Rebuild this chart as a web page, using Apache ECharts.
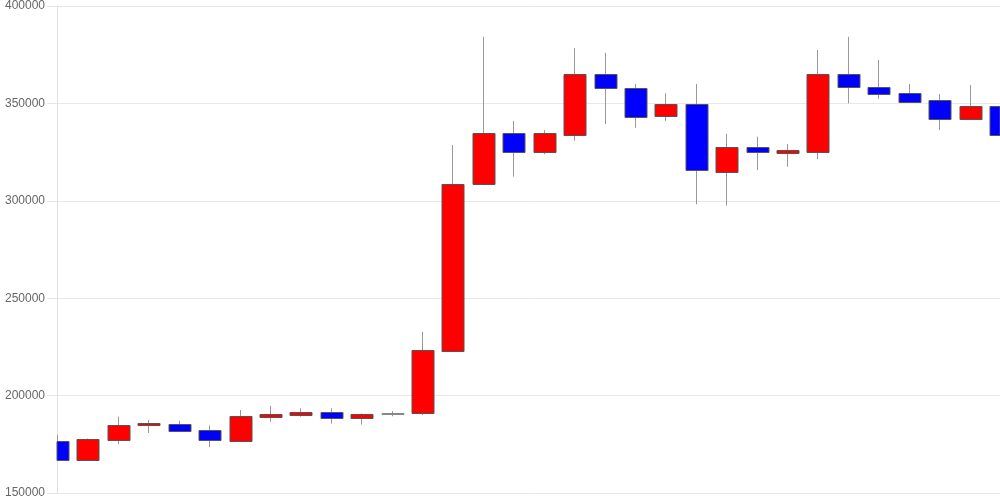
<!DOCTYPE html>
<html>
<head>
<meta charset="utf-8">
<title>candlestick</title>
<script src="https://cdn.jsdelivr.net/npm/echarts@6/dist/echarts.min.js"></script>
<style>
  html, body { margin: 0; padding: 0; background: #fff; }
  #chart { width: 1000px; height: 500px; }
</style>
</head>
<body>
<div id="chart"></div>
<script>
// 日ごとのローソク足データ（open, close, low, high）
var days = [];
for (var d = 1; d <= 32; d++) days.push("D" + d);

var openVals  = [176700, 167000, 177200, 184700, 185400, 182300, 176900, 189000, 190000, 191400, 188500, 191000,
                 190900, 223000, 308500, 335000, 324900, 333900, 365100, 358100, 343400, 349700, 314800, 327600,
                 324700, 325200, 365100, 358300, 355200, 351600, 342100, 348700];
var closeVals = [167000, 177800, 184900, 185700, 182000, 177000, 189400, 190400, 191400, 188500, 190700, 191000,
                 223400, 308500, 335000, 324900, 335000, 365100, 357900, 342900, 349700, 316000, 327600, 324900,
                 326100, 365100, 358300, 354700, 350900, 342100, 348700, 333600];
var lowVals   = [166500, 166700, 175100, 180800, 181500, 173500, 176300, 186600, 189200, 185600, 185100, 189400,
                 190000, 222500, 308000, 312400, 323900, 330900, 339400, 337500, 341000, 298200, 297500, 315800,
                 317500, 321300, 350000, 352400, 350500, 336300, 342000, 326100];
var highVals  = [179800, 178000, 189200, 187500, 187100, 184700, 192600, 194700, 193500, 193500, 190800, 192100,
                 232800, 328600, 384200, 341000, 336300, 378400, 376000, 360000, 355200, 360000, 334300, 332900,
                 329200, 377400, 384200, 372300, 360000, 354800, 359400, 352100];

var yMin = 150000, yMax = 400000, yStep = 50000;

var candles = days.map(function (_, i) {
  return [i, openVals[i], closeVals[i], lowVals[i], highVals[i]];
});

// ローソク足をグリッド内にクリップして描く
function renderCandle(params, api) {
  var idx = api.value(0);
  var o = api.value(1), c = api.value(2);
  var pOpen = api.coord([idx, o]);
  var pClose = api.coord([idx, c]);
  var pLow = api.coord([idx, api.value(3)]);
  var pHigh = api.coord([idx, api.value(4)]);
  var bw = Math.round(api.size([1, 0])[0] * 0.72);
  var cx = Math.round(pOpen[0]) + 0.5;
  var top = Math.round(Math.min(pOpen[1], pClose[1])) + 0.5;
  var bottom = Math.round(Math.max(pOpen[1], pClose[1])) + 0.5;
  var cs = params.coordSys;
  var fill = o === c ? "#888" : (c > o ? "#ff0000" : "#0000ff");
  var box = echarts.graphic.clipRectByRect(
    { x: Math.round(cx - bw / 2), y: top, width: bw, height: Math.max(bottom - top, 1) },
    { x: cs.x, y: cs.y, width: cs.width, height: cs.height }
  );
  var children = [{
    type: "line",
    shape: { x1: cx, y1: pHigh[1], x2: cx, y2: pLow[1] },
    style: { stroke: "#999", lineWidth: 1 }
  }];
  if (box) {
    children.push({
      type: "rect",
      shape: box,
      style: { fill: fill, stroke: o === c ? "#888" : "#555", lineWidth: 1 }
    });
  }
  return { type: "group", children: children };
}

var myChart = echarts.init(document.getElementById("chart"));

var option = {
  animation: false,
  grid: { left: 57, right: 0, top: 6, bottom: 7, outerBoundsMode: "none" },
  xAxis: {
    type: "category",
    data: days,
    boundaryGap: false,
    axisLine: { show: false },
    axisTick: { show: false },
    axisLabel: { show: false },
    splitLine: { show: false }
  },
  yAxis: {
    type: "value",
    min: yMin,
    max: yMax,
    interval: yStep,
    axisLine: { show: true, lineStyle: { color: "#e0e0e0" } },
    axisTick: { show: true, length: 10, lineStyle: { color: "#e6e6e6" } },
    axisLabel: {
      color: "#666",
      fontSize: 12,
      fontFamily: "Liberation Sans, Arial, sans-serif",
      margin: 12,
      formatter: function (v) { return String(v); }
    },
    splitLine: { show: true, lineStyle: { color: "#e8e8e8" } }
  },
  series: [
    {
      type: "custom",
      renderItem: renderCandle,
      data: candles,
      encode: { x: 0, y: [1, 2, 3, 4] }
    }
  ]
};

myChart.setOption(option);
</script>
</body>
</html>
